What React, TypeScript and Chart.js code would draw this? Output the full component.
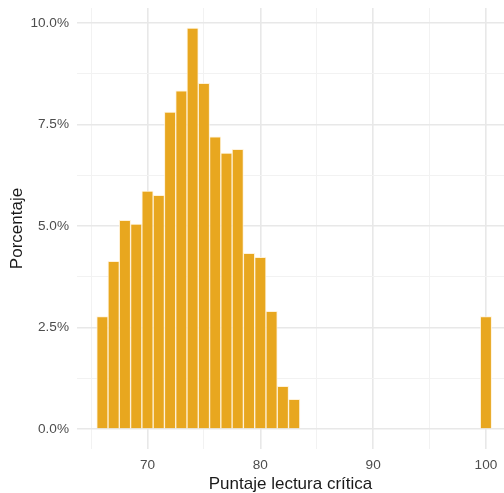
import React, { useEffect, useRef } from "react";
import { Chart, registerables } from "chart.js";

Chart.register(...registerables);

const scores = [66, 67, 68, 69, 70, 71, 72, 73, 74, 75, 76, 77, 78, 79, 80, 81, 82, 83, 100];
const percents = [2.77, 4.13, 5.14, 5.05, 5.86, 5.76, 7.81, 8.33, 9.88, 8.52, 7.2, 6.8, 6.89, 4.33, 4.23, 2.9, 1.05, 0.73, 2.77];
const xTicks = [65, 70, 75, 80, 85, 90, 95, 100];
const yTicks = [0, 1.25, 2.5, 3.75, 5, 6.25, 7.5, 8.75, 10];
const xTitle = "Puntaje lectura crítica";
const yTitle = "Porcentaje";

const FONT = "'Liberation Sans', Arial, Helvetica, sans-serif";

const isMajorY = (v: number) => Math.abs(v / 2.5 - Math.round(v / 2.5)) < 1e-6;

export default function App() {
  const ref = useRef<HTMLCanvasElement>(null);
  useEffect(() => {
    document.body.style.margin = "0";
    const ctx = ref.current!;
    const chart = new Chart(ctx, {
      type: "bar",
      data: {
        datasets: [
          {
            data: scores.map((s, i) => ({ x: s, y: percents[i] })),
            backgroundColor: "#E8A71F",
            borderColor: "rgba(255,240,210,0.85)",
            borderWidth: 1,
            barPercentage: 1,
            categoryPercentage: 1,
          },
        ],
      },
      options: {
        animation: false,
        responsive: false,
        maintainAspectRatio: false,
        layout: { padding: { top: 8, right: 0, bottom: 0, left: 0 } },
        plugins: { legend: { display: false }, tooltip: { enabled: false } },
        scales: {
          x: {
            type: "linear",
            offset: false,
            min: 63.75,
            max: 101.6,
            afterBuildTicks: (s: any) => {
              s.ticks = xTicks.map((v) => ({ value: v }));
            },
            afterFit: (s: any) => {
              s.height = 44;
              s.paddingLeft = 0;
              s.paddingRight = 0;
            },
            border: { display: false },
            grid: {
              offset: false,
              drawTicks: false,
              color: (c: any) => (c.tick && c.tick.value % 10 === 0 ? "#E8E8E8" : "#F2F2F2"),
              lineWidth: (c: any) => (c.tick && c.tick.value % 10 === 0 ? 1.6 : 1),
            },
            ticks: {
              autoSkip: false,
              maxRotation: 0,
              padding: 8,
              color: "#4D4D4D",
              font: { family: FONT, size: 13.6 },
              callback: (v: any) => (Number(v) % 10 === 0 ? String(v) : ""),
            },
            title: {
              display: true,
              text: xTitle,
              color: "#1a1a1a",
              font: { family: FONT, size: 17, lineHeight: 1 },
              padding: { top: 0, bottom: 0 },
            },
          },
          y: {
            type: "linear",
            min: -0.494,
            max: 10.374,
            afterBuildTicks: (s: any) => {
              s.ticks = yTicks.map((v) => ({ value: v }));
            },
            afterFit: (s: any) => {
              s.width = 77;
              s.paddingTop = 0;
              s.paddingBottom = 0;
            },
            border: { display: false },
            grid: {
              drawTicks: false,
              color: (c: any) => (c.tick && isMajorY(c.tick.value) ? "#E8E8E8" : "#F2F2F2"),
              lineWidth: (c: any) => (c.tick && isMajorY(c.tick.value) ? 1.6 : 1),
            },
            ticks: {
              autoSkip: false,
              padding: 8,
              color: "#4D4D4D",
              font: { family: FONT, size: 13.6 },
              callback: (v: any) => {
                const n = Number(v);
                return isMajorY(n) ? n.toFixed(1) + "%" : "";
              },
            },
            title: {
              display: true,
              text: yTitle,
              color: "#1a1a1a",
              font: { family: FONT, size: 17, lineHeight: 1 },
              padding: { top: 9, bottom: 0 },
            },
          },
        },
      },
    });
    return () => chart.destroy();
  }, []);
  return (
    <div style={{ position: "absolute", left: 0, top: 0, width: 504, height: 493 }}>
      <canvas ref={ref} width={504} height={493} style={{ width: 504, height: 493, display: "block" }} />
    </div>
  );
}
